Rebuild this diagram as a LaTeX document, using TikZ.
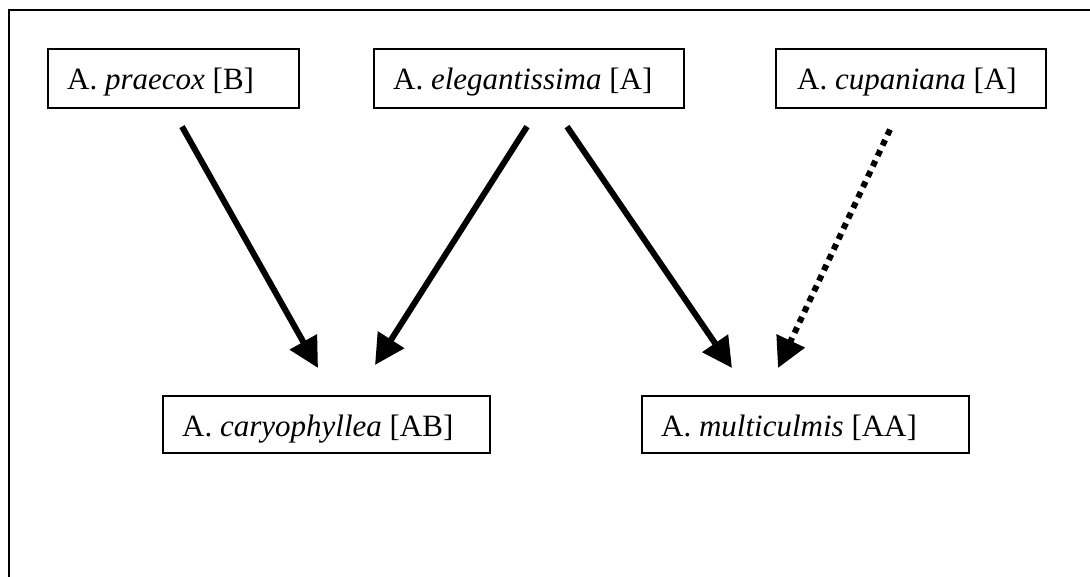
\documentclass[tikz,border=0pt]{standalone}
\usepackage{fontspec}
\setmainfont{Liberation Serif}
\usetikzlibrary{arrows.meta,calc}
\begin{document}
\begin{tikzpicture}[x=1pt,y=-1pt,
  box/.style={draw,line width=1.6pt,rectangle,inner sep=0pt,anchor=north west},
  lbl/.style={anchor=base west,inner sep=0pt,font=\fontsize{31}{36}\selectfont},
  link/.style={line width=6pt,-{Triangle[length=30pt,width=30pt]}},
  dotlink/.style={link,dash pattern=on 6pt off 5.5pt}]
\useasboundingbox (0,0) rectangle (1090,577);
% open frame: only the top and left sides fall inside the page
\draw[line width=1.6pt] (9,600) -- (9,10) -- (1100,10);
% species boxes
\node[box,minimum width=251pt,minimum height=59pt] (praecox) at (47,48) {};
\node[box,minimum width=310pt,minimum height=59pt] (eleg) at (373,48) {};
\node[box,minimum width=270pt,minimum height=59pt] (cupan) at (775,48) {};
\node[box,minimum width=327pt,minimum height=57pt] (caryo) at (162,395) {};
\node[box,minimum width=327pt,minimum height=57pt] (multi) at (641,395) {};
% labels
\node[lbl] (praecoxlbl) at ($(praecox.north west)+(20,42)$) {A. \textit{praecox} [B]};
\node[lbl] (eleglbl) at ($(eleg.north west)+(20,42)$) {A. \textit{elegantissima} [A]};
\node[lbl] (cupanlbl) at ($(cupan.north west)+(22,42)$) {A. \textit{cupaniana} [A]};
\node[lbl] (caryolbl) at ($(caryo.north west)+(20,41)$) {A. \textit{caryophyllea} [AB]};
\node[lbl] (multilbl) at ($(multi.north west)+(20,41)$) {A. \textit{multiculmis} [AA]};
% arrow end points
\coordinate (p1) at ($(praecox.south west)+(135,18)$);
\coordinate (c1) at ($(caryo.north west)+(156,-27)$);
\coordinate (e1) at ($(eleg.south west)+(154,18)$);
\coordinate (c2) at ($(caryo.north west)+(213,-30)$);
\coordinate (e2) at ($(eleg.south west)+(194,18)$);
\coordinate (m1) at ($(multi.north west)+(91,-27)$);
\coordinate (k1) at ($(cupan.south west)+(115,21)$);
\coordinate (m2) at ($(multi.north west)+(137,-27)$);
\draw[link] (p1) -- (c1);
\draw[link] (e1) -- (c2);
\draw[link] (e2) -- (m1);
\draw[dotlink] (k1) -- (m2);
\end{tikzpicture}
\end{document}
